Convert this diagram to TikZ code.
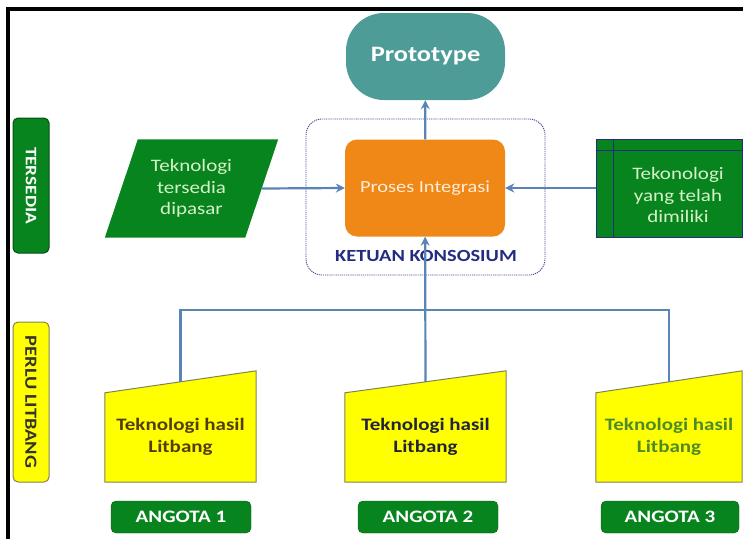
\documentclass[tikz,border=0pt]{standalone}
\usepackage{fontspec}
\setmainfont{Carlito}[FakeStretch=1.2]
\usetikzlibrary{arrows.meta,calc,backgrounds}
\definecolor{protoTeal}{RGB}{78,156,152}
\definecolor{procOrange}{RGB}{239,136,22}
\definecolor{techGreen}{RGB}{8,132,30}
\definecolor{techPale}{RGB}{214,242,200}
\definecolor{litYellow}{RGB}{255,255,0}
\definecolor{litEdge}{RGB}{130,130,90}
\definecolor{flowBlue}{RGB}{88,132,182}
\definecolor{ketuaNavy}{RGB}{36,44,128}
\definecolor{litBrown}{RGB}{84,62,8}
\definecolor{litNavy}{RGB}{34,36,60}
\definecolor{litGreen}{RGB}{78,138,40}
\newcommand{\fs}[2]{\fontsize{#1}{#2}\selectfont}

\tikzset{
  flow/.style={draw=flowBlue, line width=2.2pt},
  arr/.style={flow, -{Stealth[length=9pt,width=9pt]}},
  sidebox/.style={draw, rounded corners=5pt, rotate=-90, minimum height=36,
    line width=1pt, font=\bfseries\fs{16}{16}},
  member/.style={fill=techGreen, draw=techGreen!70!black, rounded corners=5pt,
    minimum width=140, minimum height=32, text=white, font=\bfseries\fs{17.5}{17.5}},
  techtext/.style={text=techPale, align=center, font=\fs{17.5}{21.5}}
}

\begin{document}
\begin{tikzpicture}[x=1pt,y=-1pt]
\useasboundingbox (0,0) rectangle (743,539);
\fill[black] (6,7) rectangle (743,11);
\fill[black] (6,7) rectangle (10,539);

% row labels
\node (tersedia) at (31,185.5) [sidebox, fill=techGreen, draw=techGreen!60!black,
  minimum width=135, text=white] {TERSEDIA};
\node (perlu) at (31,402) [sidebox, fill=litYellow, draw=litEdge,
  minimum width=160, text=black!80, font=\bfseries\fs{17}{17}] {PERLU LITBANG};

% lead and centre
\node (konsosium) at (425.5,197) [draw=ketuaNavy!85, line width=.9pt,
  dash pattern=on 1.2pt off 0.9pt, rounded corners=16pt, minimum width=239,
  minimum height=156] {};
\node (proto) at (425.5,56.5) [fill=protoTeal, rounded corners=38pt, minimum width=159,
  minimum height=87, text=white, font=\bfseries\fs{22}{22}] {Prototype};
\node (integrasi) at (425,188) [fill=procOrange, rounded corners=12pt, minimum width=160,
  minimum height=97, text=orange!15, font=\fs{17}{17}] {Proses Integrasi};
\node (ketua) at (426,256) [text=ketuaNavy, font=\bfseries\fs{17}{17}] {KETUAN KONSOSIUM};

% existing technology
\node (pasar) at (191.5,188.5) [techtext, minimum width=140, minimum height=98]
  {Teknologi\\tersedia\\dipasar};
\begin{scope}[on background layer]
\fill[techGreen] ($(pasar.north west)+(16.5,0)$) -- ($(pasar.north east)+(16.5,0)$)
  -- ($(pasar.south east)+(-16.5,0)$) -- ($(pasar.south west)+(-16.5,0)$) -- cycle;
\end{scope}
\node (dimiliki) at (669,188) [fill=techGreen, draw=ketuaNavy, line width=.8pt,
  minimum width=146, minimum height=98] {};
\draw[ketuaNavy, line width=.8pt] ($(dimiliki.north west)+(0,12)$) -- ($(dimiliki.north east)+(0,12)$);
\draw[ketuaNavy, line width=.8pt] ($(dimiliki.north west)+(18,0)$) -- ($(dimiliki.south west)+(18,0)$);
\node (dimilikiText) at (678,195) [techtext] {Tekonologi\\yang telah\\dimiliki};

% members
\foreach \n/\x/\w/\c in {1/180.5/151/litBrown, 2/425.5/161/litNavy, 3/669/146/litGreen}{
  \node (lit\n) at (\x,426.5) [minimum width=\w, minimum height=111, inner sep=0pt] {};
  \filldraw[fill=litYellow, draw=litEdge, line width=1pt]
    (lit\n.south west) -- (lit\n.south east) -- (lit\n.north east)
    -- ($(lit\n.north west)+(0,22)$) -- cycle;
  \node (litText\n) at (\x,437) [text=\c, align=center, font=\bfseries\fs{17.5}{22}]
    {Teknologi hasil\\Litbang};
  \coordinate (top\n) at ($(lit\n.north)+(0,11)$);
}
\node (angota1) at (181,517) [member] {ANGOTA 1};
\node (angota2) at (428,517) [member] {ANGOTA 2};
\node (angota3) at (670,517) [member, minimum width=138] {ANGOTA 3};

% flows
\coordinate (bus) at (425,310);
\draw[flow] (top1) |- (bus) -| (top3);
\draw[arr] (top2) -- (integrasi);
\draw[arr] (pasar.east) -- (integrasi.west);
\draw[arr] (dimiliki.west) -- (integrasi.east);
\draw[arr] (integrasi) -- (proto);
\end{tikzpicture}
\end{document}
